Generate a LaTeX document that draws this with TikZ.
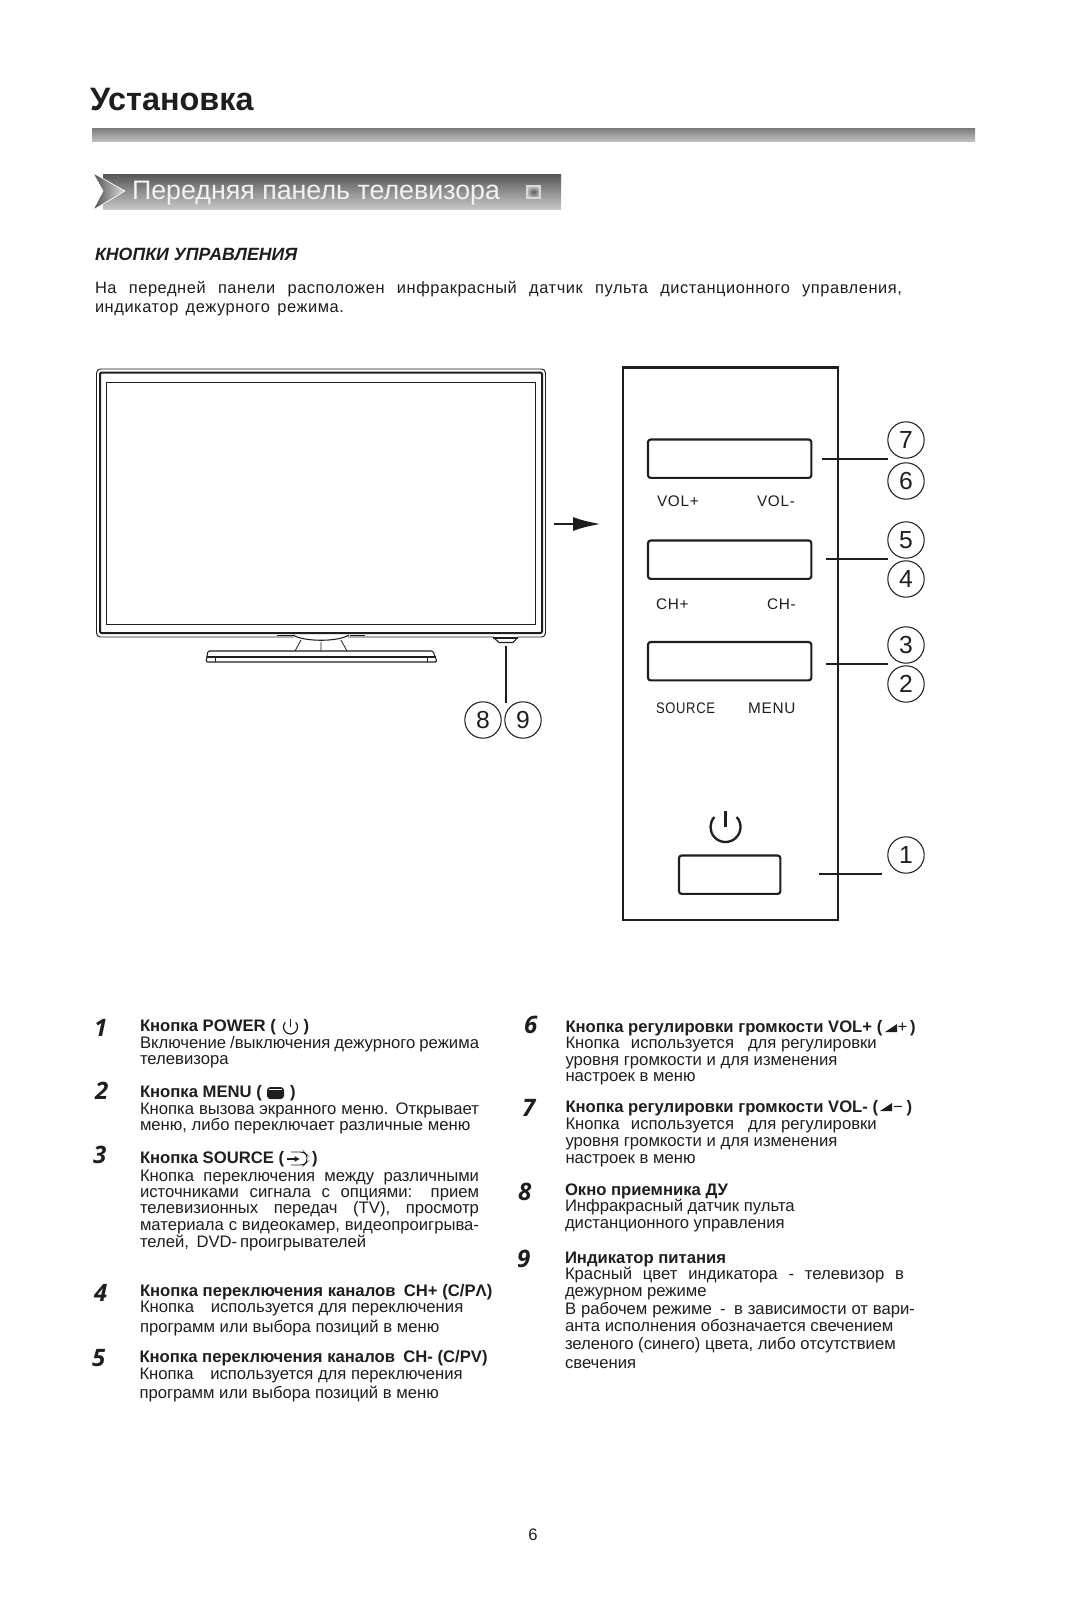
\documentclass[tikz,border=0pt]{standalone}
\usepackage{fontspec}
\setmainfont{Liberation Sans}
\newfontfamily\numfont{Open Sans}
\newfontfamily\tracked[LetterSpace=5]{Liberation Sans}
\newfontfamily\introfont[LetterSpace=3.5]{Liberation Sans}
\usetikzlibrary{arrows.meta}
\definecolor{ink}{HTML}{1E1E1E}
\tikzset{
  txt/.style={anchor=base west,inner sep=0pt,outer sep=0pt,text=ink,font=\fontsize{12.5}{14}\selectfont},
  hdr/.style={txt,font=\fontsize{12.5}{14}\selectfont\bfseries},
  num/.style={txt,font=\fontsize{18}{20}\selectfont\numfont\bfseries\itshape},
  lab/.style={txt,font=\fontsize{11.5}{13}\selectfont\tracked},
  callout/.style={circle,draw=ink,line width=0.8pt,minimum size=27.3pt,inner sep=0pt,text=ink,font=\fontsize{18.5}{20}\selectfont},
  btn/.style={draw=ink,line width=1.6pt,rounded corners=2pt,inner sep=0pt,outer sep=0pt,anchor=north west},
  leader/.style={draw=ink,line width=0.8pt}
}
\newcommand{\Tl}[5]{\node[txt] (#1) at (#2,#3) {\makebox[\dimexpr#4pt*3/4\relax][s]{#5}};}
\newcommand{\Il}[5]{\node[txt,font=\fontsize{12.3}{14}\selectfont\introfont] (#1) at (#2,#3) {\makebox[\dimexpr#4pt*3/4\relax][s]{#5}};}
\newcommand{\Fl}[4]{\node[txt] (#1) at (#2,#3) {#4};}
\newcommand{\Hd}[4]{\node[hdr] (#1) at (#2,#3) {#4};}
\newcommand{\Nm}[4]{\node[num] (#1) at (#2,#3) {#4};}
\begin{document}
\begin{tikzpicture}[x=0.75pt,y=-0.75pt]
\useasboundingbox (0,0) rectangle (1067,1600);
\fill[white] (0,0) rectangle (1067,1600);
% title
\node[txt,font=\fontsize{24.3}{28}\selectfont\bfseries] (title) at (90,110) {Установка};
\shade[top color=black!52,middle color=black!32,bottom color=black!24] (92,128) rectangle (975,141.5);
% banner
\shade[top color=black!66,bottom color=black!22] (103,174) rectangle (561,209);
\shade[left color=black!70,right color=black!12,draw=white,line width=0.5pt] (93,173) -- (125,191) -- (93,210) -- (103,191) -- cycle;
\node[txt,text=white!95!black,font=\fontsize{20.1}{24}\selectfont] (bannertext) at (132,199.5) {Передняя панель телевизора};
\shade[inner color=black!65,outer color=black!25,draw=white!85!black,line width=0.8pt] (527,186) rectangle (540,198);
% intro
\node[txt,font=\fontsize{13.3}{15}\selectfont\bfseries\itshape] (ctrl) at (95,260) {КНОПКИ УПРАВЛЕНИЯ};
\Il{in1}{95}{293.5}{807}{На передней панели расположен инфракрасный датчик пульта дистанционного управления,}
\Il{in2}{95}{312.5}{249}{индикатор дежурного режима.}
% TV
\draw[ink,line width=0.7pt,rounded corners=3pt] (96.5,369) rectangle (545.5,637);
\draw[ink,line width=1.5pt,rounded corners=1pt] (100,372.5) rectangle (542,633);
\node[draw=ink,line width=0.6pt,inner sep=0pt,outer sep=0pt,minimum width=322pt,minimum height=181.5pt,anchor=north west] (screen) at (106.5,382.5) {};
\draw[ink,line width=0.5pt] (277,635.5) -- (293,635.5) (350,635.5) -- (365,635.5);
\fill[white] (294,636) rectangle (348,638.5);
\draw[ink,line width=0.8pt] (293,635) .. controls (304,642) and (338,642) .. (349,635);
\draw[ink,line width=0.6pt] (301,640) -- (295,651) (341,640) -- (347,651) (321,642) -- (321,651);
\draw[ink,line width=0.8pt,rounded corners=1pt] (206,662) -- (208,651) -- (433,651) -- (437,662) -- cycle;
\draw[ink,line width=1.6pt] (207,657) -- (436,657);
\draw[ink,line width=0.6pt] (215,657) -- (215,662) (427,657) -- (427,662);
\node[inner sep=0pt,minimum size=1pt] (tvir) at (506,646) {};
\fill[white] (493,636) -- (518,636) -- (518,640) -- (512,643) -- (499,643) -- (493,640) -- cycle;
\draw[ink,line width=0.8pt] (493,637) -- (499,642.5) -- (513,642.5) -- (518,637);
\draw[ink,line width=1.6pt] (493,638) -- (518,638);
\node[callout] (c8) at (483,720) {8};
\node[callout] (c9) at (523,720) {9};
\coordinate (l89) at (506,703);
\draw[leader,line width=1.5pt] (tvir.center) -- (l89);
% arrow
\coordinate (arA) at (554,524);
\coordinate (arB) at (601,524);
\draw[ink,line width=2pt,-{Latex[length=21pt,width=10.5pt]}] (arA) -- (arB);
% panel
\node[draw=ink,line width=1.7pt,inner sep=0pt,outer sep=0pt,minimum width=161pt,minimum height=414.5pt,anchor=north west] (panel) at (623,367.5) {};
\node[btn,minimum width=122.5pt,minimum height=28.8pt] (b67) at (648,439.5) {};
\node[btn,minimum width=122.5pt,minimum height=28.8pt] (b45) at (648,540.5) {};
\node[btn,minimum width=122.5pt,minimum height=28.8pt] (b23) at (648,642) {};
\node[btn,minimum width=76pt,minimum height=28.8pt] (b1) at (679,855.5) {};
\node[lab] (lvolp) at (657,506) {VOL+};
\node[lab] (lvolm) at (757,506) {VOL-};
\node[lab] (lchp) at (656,609) {CH+};
\node[lab] (lchm) at (767,609) {CH-};
\node[lab,xscale=0.85] (lsrc) at (656,713) {SOURCE};
\node[lab] (lmenu) at (748,713) {MENU};
% power symbol
\draw[ink,line width=1.75pt] (725.5,827) ++(-42:15) arc[start angle=-42,end angle=222,radius=15];
\draw[ink,line width=1.75pt] (725.5,811) -- (725.5,827);
% callouts
\node[callout] (c7) at (906,440) {7};
\node[callout] (c6) at (906,481) {6};
\node[callout] (c5) at (906,540) {5};
\node[callout] (c4) at (906,579) {4};
\node[callout] (c3) at (906,645) {3};
\node[callout] (c2) at (906,684) {2};
\node[callout] (c1) at (906,855) {1};
\coordinate (l67a) at (822,459); \coordinate (l67b) at (888,459);
\coordinate (l45a) at (826,559); \coordinate (l45b) at (888,559);
\coordinate (l23a) at (826,664); \coordinate (l23b) at (888,664);
\coordinate (l1a) at (819,874); \coordinate (l1b) at (882,874);
\draw[leader] (l67a) -- (l67b);
\draw[leader] (l45a) -- (l45b);
\draw[leader] (l23a) -- (l23b);
\draw[leader] (l1a) -- (l1b);
% left column
\Nm{n1}{94}{1036}{1}
\Hd{h1}{140}{1031}{Кнопка POWER (}
\Hd{h1b}{303.5}{1031}{)}
\Tl{t1a}{140}{1048}{339}{Включение /выключения дежурного режима}
\Fl{t1b}{140}{1064}{телевизора}
\draw[ink,line width=0.9pt] (290.5,1027) ++(-42:7) arc[start angle=-42,end angle=222,radius=7];
\draw[ink,line width=0.9pt] (290.5,1018.5) -- (290.5,1027);
\Nm{n2}{95}{1099}{2}
\Hd{h2}{140}{1097}{Кнопка MENU (}
\Hd{h2b}{290}{1097}{)}
\Tl{t2a}{140}{1114}{339}{Кнопка вызова экранного меню. Открывает}
\Fl{t2b}{140}{1130}{меню, либо переключает различные меню}
\fill[ink,rounded corners=2.5pt] (267,1087) rectangle (284,1099);
\draw[white,line width=0.5pt] (269,1089.5) -- (282,1089.5);
\Nm{n3}{93}{1163}{3}
\Hd{h3}{140}{1163}{Кнопка SOURCE (}
\Hd{h3b}{312}{1163}{)}
\Tl{t3a}{140}{1181}{339}{Кнопка переключения между различными}
\Tl{t3b}{140}{1197.5}{339}{источниками сигнала с опциями: прием}
\Tl{t3c}{140}{1213.5}{339}{телевизионных передач (TV), просмотр}
\Tl{t3d}{140}{1230}{339}{материала с видеокамер, видеопроигрыва-}
\Fl{t3e}{140}{1247}{телей,\, DVD-\,проигрывателей}
\draw[ink,line width=0.7pt,rounded corners=2.5pt] (291,1152) -- (304,1152) -- (307,1155) -- (307,1162) -- (304,1165) -- (291,1165);
\draw[ink,line width=0.8pt,-{Latex[length=4pt,width=4.5pt]}] (287,1159) -- (300,1159);
\Nm{n4}{94}{1301}{4}
\Hd{h4}{140}{1296}{Кнопка переключения каналов\enspace CH+ (C/PΛ)}
\Fl{t4a}{140}{1312}{Кнопка\hspace{9pt} используется для переключения}
\Fl{t4b}{140}{1332}{программ или выбора позиций в меню}
\Nm{n5}{92}{1366}{5}
\Hd{h5}{139.5}{1362}{Кнопка переключения каналов\enspace CH- (C/PV)}
\Fl{t5a}{139.5}{1379}{Кнопка\hspace{9pt} используется для переключения}
\Fl{t5b}{139.5}{1398}{программ или выбора позиций в меню}
% right column
\Nm{n6}{524}{1033}{6}
\Hd{h6}{565.5}{1032}{Кнопка регулировки громкости VOL+ (}
\fill[ink] (885,1032) -- (897,1032) -- (897,1024) -- cycle;
\Fl{h6b}{897.5}{1032}{+}
\Hd{h6c}{910}{1032}{)}
\Fl{t6a}{565.5}{1048}{Кнопка\hspace{5pt} используется\hspace{7pt} для регулировки}
\Fl{t6b}{565.5}{1065}{уровня громкости и для изменения}
\Fl{t6c}{565.5}{1081}{настроек в меню}
\Nm{n7}{522}{1116}{7}
\Hd{h7}{565.5}{1112}{Кнопка регулировки громкости VOL- (}
\fill[ink] (880,1111) -- (892,1111) -- (892,1103) -- cycle;
\Fl{h7b}{893}{1112}{−}
\Hd{h7c}{906.5}{1112}{)}
\Fl{t7a}{565.5}{1129}{Кнопка\hspace{5pt} используется\hspace{7pt} для регулировки}
\Fl{t7b}{565.5}{1146}{уровня громкости и для изменения}
\Fl{t7c}{565.5}{1163}{настроек в меню}
\Nm{n8}{518}{1200}{8}
\Hd{h8}{565}{1195}{Окно приемника ДУ}
\Fl{t8a}{565}{1211}{Инфракрасный датчик пульта}
\Fl{t8b}{565}{1228}{дистанционного управления}
\Nm{n9}{517}{1267}{9}
\Hd{h9}{565}{1263}{Индикатор питания}
\Tl{t9a}{565}{1279}{339}{Красный цвет индикатора - телевизор в}
\Fl{t9b}{565}{1296}{дежурном режиме}
\Tl{t9c}{565}{1314}{350}{В рабочем режиме\enspace-\enspace в зависимости от вари-}
\Fl{t9d}{565}{1331}{анта исполнения обозначается свечением}
\Fl{t9e}{565}{1349}{зеленого (синего) цвета, либо отсутствием}
\Fl{t9f}{565}{1368}{свечения}
\node[txt,anchor=base] (page) at (533,1540) {6};
\end{tikzpicture}
\end{document}
